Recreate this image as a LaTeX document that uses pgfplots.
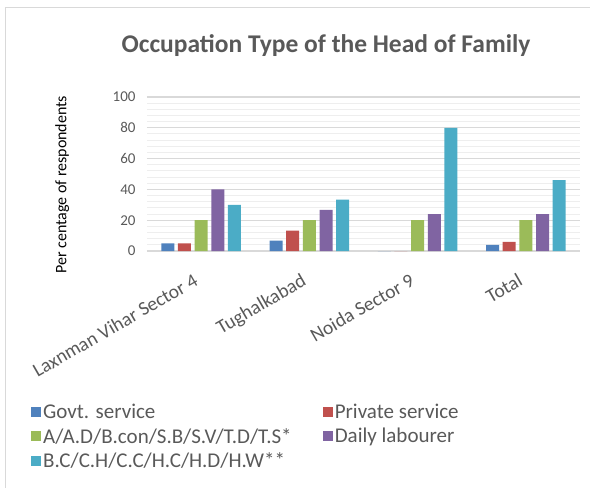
\documentclass[border=0pt]{standalone}
\usepackage{pgfplots}
\pgfplotsset{compat=1.18}
\usepackage{fontspec}
\setmainfont{Carlito}
\definecolor{txtgray}{RGB}{89,89,89}
\definecolor{majgrid}{RGB}{217,217,217}
\definecolor{mingrid}{RGB}{238,238,238}
\definecolor{cA}{RGB}{79,129,189}
\definecolor{cB}{RGB}{192,80,77}
\definecolor{cC}{RGB}{155,187,89}
\definecolor{cD}{RGB}{128,100,162}
\definecolor{cE}{RGB}{75,172,198}
\begin{document}
\begin{tikzpicture}[x=1pt,y=1pt]
\begin{axis}[
  name=ax,
  scale only axis, width=433pt, height=154pt,
  xmin=-0.5, xmax=3.5, ymin=0, ymax=100,
  ybar, bar width=0.12,
  axis line style={draw=none},
  xtick={0,1,2,3},
  xticklabels={Laxnman Vihar Sector 4, Tughalkabad, Noida Sector 9, Total},
  xticklabel style={rotate=30, anchor=north east, font=\fontsize{19.5}{23}\selectfont, text=txtgray, xshift=-15pt, yshift=-11pt},
  ytick={0,20,40,60,80,100},
  minor y tick num=4,
  yticklabel style={font=\fontsize{15}{18}\selectfont, text=txtgray, xshift=-8pt},
  /pgf/number format/assume math mode=true,
  major tick length=0pt, minor tick length=0pt,
  ymajorgrids, yminorgrids,
  major grid style={color=majgrid, line width=1.2pt},
  minor grid style={color=mingrid, line width=1pt},
  ylabel={Per centage of respondents},
  ylabel style={at={(axis description cs:-0.196,0.43)}, anchor=center, font=\fontsize{16}{18}\selectfont},
  legend columns=2,
  legend cell align=left,
  legend style={at={(axis description cs:-0.275,-0.968)}, anchor=north west, draw=none, fill=none,
    font=\fontsize{21}{24}\selectfont, text=txtgray, row sep=4pt,
    /tikz/every even column/.append style={column sep=29pt}},
  legend image code/.code={\fill[#1] (0pt,-5pt) rectangle (10pt,5pt);},
]
\addplot[fill=cA, draw=none, bar shift=-0.308] coordinates {(0,5) (1,6.7) (2,0) (3,4)};
\addplot[fill=cB, draw=none, bar shift=-0.154] coordinates {(0,5) (1,13.3) (2,0) (3,6)};
\addplot[fill=cC, draw=none, bar shift=0] coordinates {(0,20) (1,20) (2,20) (3,20)};
\addplot[fill=cD, draw=none, bar shift=0.154] coordinates {(0,40) (1,26.7) (2,24) (3,24)};
\addplot[fill=cE, draw=none, bar shift=0.308] coordinates {(0,30) (1,33.3) (2,80) (3,46)};
\legend{Govt. service, Private service, A/A.D/B.con/S.B/S.V/T.D/T.S*, Daily labourer, B.C/C.H/C.C/H.C/H.D/H.W**}
\end{axis}
\coordinate (O) at ([shift={(-147pt,-237pt)}]ax.south west);
\draw[color=majgrid, line width=1pt] ([shift={(6pt,-5pt)}]O) -- ([shift={(6pt,480pt)}]O) -- ([shift={(600pt,480pt)}]O);
\node[font=\bfseries\fontsize{25.5}{30}\selectfont, text=txtgray] at ([shift={(326pt,442pt)}]O) {Occupation Type of the Head of Family};
\pgfresetboundingbox
\path[use as bounding box] (O) rectangle ([shift={(590pt,488pt)}]O);
\end{tikzpicture}
\end{document}
